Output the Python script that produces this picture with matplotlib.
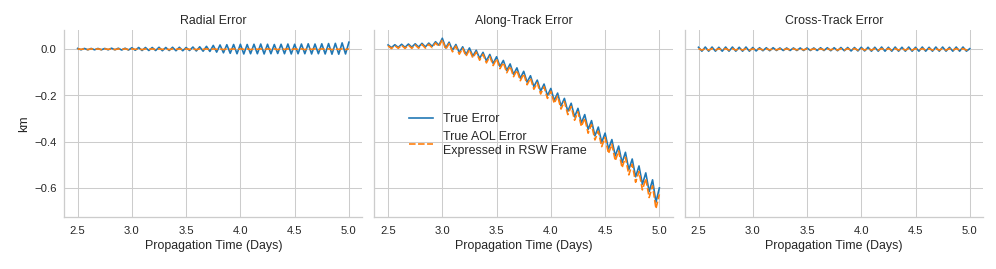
import numpy as np
import matplotlib
matplotlib.use("Agg")
import matplotlib.pyplot as plt

# sample grid: one point every half orbit (peak / trough)
days = np.linspace(2.5, 5.0, 81)

panel_titles = ["Radial Error", "Along-Track Error", "Cross-Track Error"]
series_labels = ["True Error", "True AOL Error\nExpressed in RSW Frame"]

# Radial error (km)
radial_true = [
    0.003, -0.003, 0.003, -0.003, 0.003, -0.003, 0.003, -0.003, 0.003, -0.003,
    0.004, -0.003, 0.004, -0.004, 0.004, -0.004, 0.006, -0.005, 0.007, -0.006,
    0.007, -0.006, 0.007, -0.006, 0.008, -0.007, 0.007, -0.006, 0.008, -0.007,
    0.008, -0.007, 0.007, -0.006, 0.009, -0.008, 0.010, -0.009, 0.012, -0.010,
    0.016, -0.013, 0.018, -0.016, 0.019, -0.018, 0.020, -0.020, 0.021, -0.021,
    0.020, -0.020, 0.021, -0.020, 0.022, -0.021, 0.021, -0.020, 0.020, -0.019,
    0.021, -0.020, 0.022, -0.021, 0.021, -0.020, 0.022, -0.020, 0.023, -0.021,
    0.022, -0.020, 0.023, -0.021, 0.024, -0.022, 0.025, -0.022, 0.027, -0.021,
    0.030]
radial_aol = [
    0.001, -0.001, 0.001, -0.002, 0.001, -0.001, 0.001, -0.002, 0.001, -0.001,
    0.001, -0.002, 0.001, -0.001, 0.001, -0.002, 0.001, -0.001, 0.001, -0.002,
    0.001, -0.001, 0.001, -0.002, 0.001, -0.001, 0.001, -0.002, 0.001, -0.001,
    0.001, -0.002, 0.001, -0.001, 0.001, -0.002, 0.001, -0.001, 0.001, -0.002,
    0.001, -0.001, 0.001, -0.002, 0.001, -0.001, 0.001, -0.002, 0.001, -0.001,
    0.001, -0.002, 0.001, -0.001, 0.001, -0.002, 0.001, -0.001, 0.001, -0.002,
    0.001, -0.001, 0.001, -0.002, 0.001, -0.001, 0.001, -0.002, 0.001, -0.001,
    0.001, -0.002, 0.001, -0.001, 0.001, -0.002, 0.001, -0.001, 0.001, -0.002,
    0.001]

# Along-track error (km)
along_true = [
    0.018, 0.0065, 0.019, 0.0075, 0.021, 0.0075, 0.022, 0.0085, 0.023, 0.009,
    0.025, 0.0095, 0.026, 0.012, 0.032, 0.017, 0.047, 0.005, 0.030, -0.005,
    0.020, -0.015, 0.010, -0.023, 0.005, -0.030, -0.005, -0.040, -0.014, -0.051,
    -0.023, -0.062, -0.033, -0.075, -0.049, -0.092, -0.064, -0.109, -0.081, -0.126,
    -0.096, -0.143, -0.115, -0.162, -0.134, -0.182, -0.151, -0.201, -0.170, -0.222,
    -0.190, -0.246, -0.213, -0.269, -0.234, -0.293, -0.256, -0.319, -0.283, -0.347,
    -0.309, -0.375, -0.337, -0.403, -0.363, -0.432, -0.391, -0.462, -0.419, -0.491,
    -0.446, -0.521, -0.475, -0.552, -0.505, -0.584, -0.535, -0.616, -0.565, -0.662,
    -0.600]
along_aol = [
    0.014, 0.0025, 0.015, 0.0035, 0.0165, 0.003, 0.0175, 0.0035, 0.018, 0.004,
    0.020, 0.0045, 0.0205, 0.0065, 0.0265, 0.011, 0.041, -0.001, 0.0235, -0.0115,
    0.013, -0.022, 0.003, -0.0305, -0.0025, -0.038, -0.013, -0.048, -0.0225, -0.0595,
    -0.032, -0.071, -0.042, -0.0845, -0.0585, -0.102, -0.074, -0.119, -0.0915, -0.1365,
    -0.107, -0.154, -0.126, -0.1735, -0.1455, -0.194, -0.163, -0.213, -0.182, -0.2345,
    -0.203, -0.259, -0.2265, -0.283, -0.248, -0.3075, -0.271, -0.3345, -0.299, -0.3635,
    -0.326, -0.3925, -0.355, -0.4215, -0.382, -0.4515, -0.411, -0.4825, -0.440, -0.5125,
    -0.468, -0.5435, -0.498, -0.5755, -0.529, -0.6085, -0.560, -0.6415, -0.591, -0.689,
    -0.628]

# Cross-track error (km)
cross_true = [
    0.008, -0.009, 0.009, -0.009, 0.009, -0.009, 0.008, -0.009, 0.009, -0.009,
    0.009, -0.009, 0.008, -0.009, 0.009, -0.009, 0.007, -0.008, 0.006, -0.007,
    0.006, -0.007, 0.006, -0.006, 0.005, -0.006, 0.005, -0.006, 0.005, -0.006,
    0.005, -0.006, 0.005, -0.006, 0.005, -0.006, 0.006, -0.006, 0.006, -0.007,
    0.006, -0.007, 0.007, -0.007, 0.007, -0.008, 0.007, -0.008, 0.008, -0.008,
    0.008, -0.009, 0.008, -0.009, 0.009, -0.009, 0.008, -0.009, 0.009, -0.009,
    0.008, -0.009, 0.009, -0.009, 0.008, -0.009, 0.009, -0.009, 0.008, -0.009,
    0.009, -0.009, 0.009, -0.009, 0.008, -0.009, 0.009, -0.009, 0.009, -0.009,
    0.002]
cross_aol = [
    0.002, -0.004, 0.002, -0.004, 0.002, -0.004, 0.002, -0.004, 0.002, -0.004,
    0.002, -0.004, 0.002, -0.004, 0.002, -0.004, 0.001, -0.003, 0.001, -0.003,
    0.001, -0.003, 0.001, -0.003, 0.001, -0.003, 0.001, -0.003, 0.001, -0.003,
    0.001, -0.003, 0.001, -0.003, 0.001, -0.003, 0.001, -0.003, 0.001, -0.003,
    0.002, -0.004, 0.002, -0.004, 0.002, -0.004, 0.002, -0.004, 0.002, -0.004,
    0.002, -0.004, 0.002, -0.004, 0.002, -0.004, 0.002, -0.004, 0.002, -0.004,
    0.002, -0.004, 0.002, -0.004, 0.002, -0.004, 0.002, -0.004, 0.002, -0.004,
    0.002, -0.004, 0.002, -0.004, 0.002, -0.004, 0.002, -0.004, 0.002, -0.004,
    -0.001]

true_err = [radial_true, along_true, cross_true]
aol_err = [radial_aol, along_aol, cross_aol]

# whitegrid-like look
plt.rcParams['font.family'] = ['Liberation Sans', 'DejaVu Sans']
plt.rcParams['text.color'] = '.15'
plt.rcParams['axes.labelcolor'] = '.15'
plt.rcParams['xtick.color'] = '.15'
plt.rcParams['ytick.color'] = '.15'
plt.rcParams['axes.edgecolor'] = '.8'
plt.rcParams['axes.linewidth'] = 1.25
plt.rcParams['grid.color'] = '.8'
plt.rcParams['grid.linewidth'] = 1.0
plt.rcParams['xtick.major.size'] = 0
plt.rcParams['ytick.major.size'] = 0
plt.rcParams['xtick.major.pad'] = 8
plt.rcParams['ytick.major.pad'] = 7

dpi = 74
fig, axes = plt.subplots(1, 3, sharey=True, figsize=(996.3 / dpi, 269.3 / dpi), dpi=dpi)
fig.subplots_adjust(left=0.0643, right=0.987, bottom=0.193, top=0.8885, wspace=0.0403)

for i, ax in enumerate(axes):
    ax.plot(days, true_err[i], color='#1f77b4', lw=1.6, label=series_labels[0])
    ax.plot(days, aol_err[i], color='#ff7f0e', lw=1.6, ls=(0, (4, 1.5)), label=series_labels[1])
    ax.set_title(panel_titles[i], fontsize=12)
    ax.set_xlabel("Propagation Time (Days)", fontsize=12)
    ax.grid(True)
    ax.set_axisbelow(True)
    ax.tick_params(labelsize=11)
    ax.spines['top'].set_visible(False)
    ax.spines['right'].set_visible(False)
    ax.set_xticks([2.5, 3.0, 3.5, 4.0, 4.5, 5.0])

axes[0].set_ylabel("km", fontsize=12)
axes[1].legend(loc='center left', bbox_to_anchor=(0.077, 0.438), frameon=False, fontsize=12)

fig.savefig("out.png", dpi=dpi)
